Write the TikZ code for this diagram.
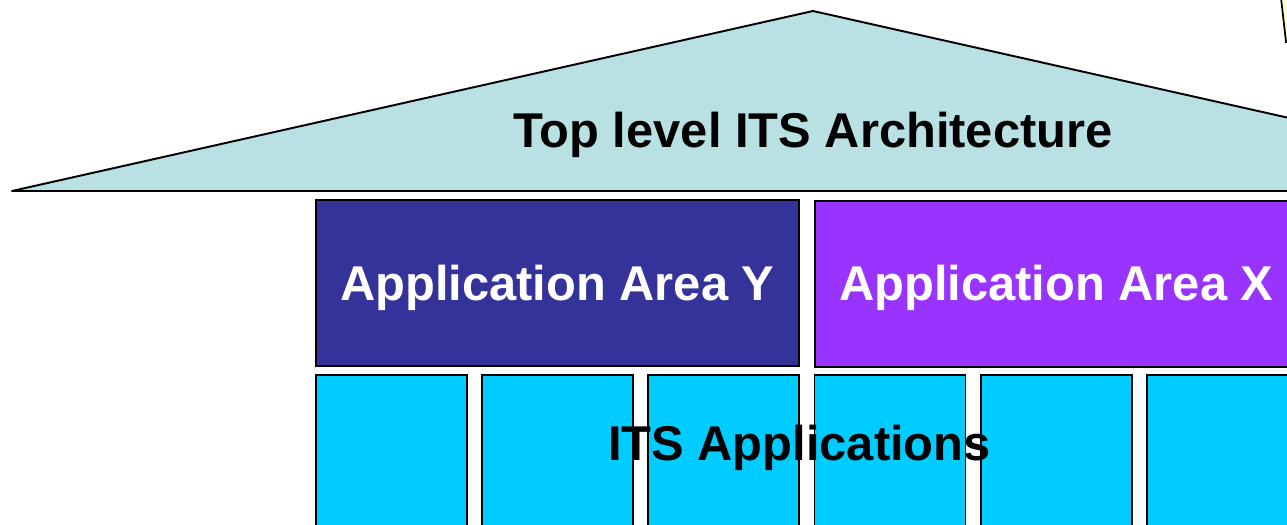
\documentclass[tikz,border=0pt]{standalone}
\usepackage{fontspec}
\setmainfont{Liberation Sans}
\definecolor{roofblue}{HTML}{B9E0E3}
\definecolor{areaY}{HTML}{333399}
\definecolor{areaX}{HTML}{9933FF}
\definecolor{appcyan}{HTML}{00CCFF}
\definecolor{noteyellow}{HTML}{FFFFCC}
\tikzset{
    areabox/.style={draw=black,line width=1pt,anchor=north west,minimum width=9.66cm,minimum height=3.32cm,inner sep=0pt},
    appbox/.style={draw=black,line width=1pt,fill=appcyan,anchor=north west,minimum width=3.02cm,minimum height=4cm,inner sep=0pt},
    bigtext/.style={font=\bfseries\fontsize{27.8}{32}\selectfont,inner sep=0pt,anchor=base}
}
\begin{document}
\begin{tikzpicture}[x=0.02cm,y=-0.02cm]
    \useasboundingbox (0,0) rectangle (1287,524);
    \clip (0,0) rectangle (1287,524);
    \fill[white] (0,0) rectangle (1287,524);
    % corner of the note in the upper right
    \draw[fill=noteyellow,line width=1pt] (1281,-2) -- (1286,42) -- (1300,42) -- (1300,-2);
    % roof
    \draw[fill=roofblue,line width=1.1pt,line join=round] (12,191) -- (813,11) -- (1614,191) -- cycle;
    \node[bigtext] (top) at (813,147) {Top level ITS Architecture};
    % application areas
    \node[areabox,fill=areaY] (areaY) at (315,199) {};
    \node[areabox,fill=areaX] (areaX) at (814,200) {};
    \node[bigtext,white] at (areaY.center |- 0,300) {Application Area Y};
    \node[bigtext,white] at (areaX.center |- 0,300) {Application Area X};
    % applications
    \foreach \i in {0,...,5}
        \node[appbox] (app\i) at (315+166.2*\i,374) {};
    \node[bigtext] (apps) at (799.5,460) {ITS Applications};
\end{tikzpicture}
\end{document}
